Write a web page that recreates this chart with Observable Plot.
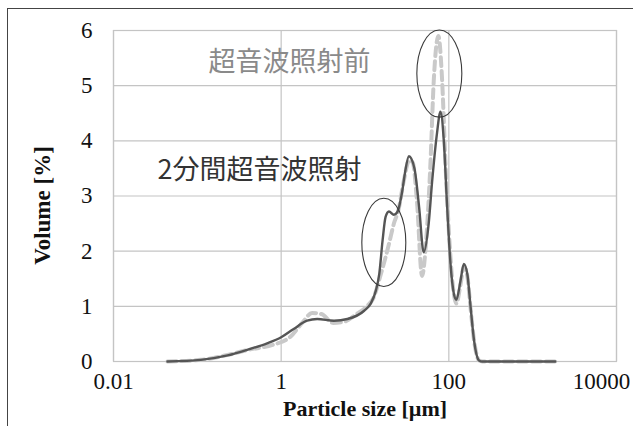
<!DOCTYPE html>
<html><head><meta charset="utf-8">
<script src="https://cdn.jsdelivr.net/npm/d3@7"></script>
<script src="https://cdn.jsdelivr.net/npm/@observablehq/plot@0.6"></script>
<style>
html,body{margin:0;padding:0;background:#fff;overflow:hidden;}
#wrap{position:relative;width:633px;height:426px;overflow:hidden;}
#border{position:absolute;left:7px;top:8px;width:700px;height:500px;border-top:1.5px solid #444;border-left:1.5px solid #444;pointer-events:none;}
</style></head><body><div id="wrap"><div id="chart"></div><div id="border"></div></div>
<script>
// Series: after 2 min of ultrasonication (solid)
const sizeAfter = [0.044, 0.11, 0.23, 0.43, 0.68, 1.0, 1.41, 2.04, 2.69, 4.27, 6.17, 9.77, 11.7, 13.5, 14.8, 16.2, 17.6, 19.3, 22.1, 24.3, 27.9, 30.2, 33.4, 38.9, 44.2, 50.1, 57.5, 63.1, 72.4, 79.4, 87.1, 95.5, 104.7, 114.8, 123, 138, 151, 166, 182, 200, 229, 251, 1862];
const volAfter  = [0, 0.03, 0.11, 0.23, 0.33, 0.44, 0.59, 0.74, 0.77, 0.74, 0.77, 0.92, 1.05, 1.29, 1.59, 2.19, 2.62, 2.72, 2.66, 2.71, 3.10, 3.45, 3.72, 3.50, 2.80, 1.98, 2.50, 3.25, 4.15, 4.53, 4.00, 2.80, 1.77, 1.23, 1.12, 1.47, 1.77, 1.59, 0.98, 0.38, 0.02, 0, 0];
// Series: before ultrasonication (dashed)
const sizeBefore = [0.044, 0.11, 0.23, 0.43, 0.79, 1.29, 1.78, 2.34, 3.02, 4.17, 5.62, 7.94, 10.5, 12.6, 15.5, 19.3, 22.1, 25.1, 28.8, 33.9, 37.2, 41.7, 47.9, 53.7, 60.3, 66.1, 75.0, 83.2, 91.2, 100, 112, 123, 138, 151, 166, 182, 200, 229, 251, 1862];
const volBefore  = [0, 0.03, 0.12, 0.22, 0.30, 0.45, 0.70, 0.88, 0.86, 0.70, 0.72, 0.86, 1.0, 1.15, 1.59, 2.13, 2.50, 2.75, 3.25, 3.65, 3.60, 2.90, 1.55, 2.20, 3.58, 5.09, 5.90, 5.09, 3.58, 2.37, 1.35, 1.05, 1.40, 1.72, 1.55, 0.95, 0.38, 0.02, 0, 0];

const xTicks = [0.01, 1, 100, 10000];
const xTickLabels = ["0.01", "1", "100", "10000"];
const yTicks = [0, 1, 2, 3, 4, 5, 6];
const xTitle = "Particle size [µm]";
const yTitle = "Volume [%]";

const labelBefore = "超音波照射前";
const labelAfter = "2分間超音波照射";
const labelBeforePos = [0.136, 5.42];
const labelAfterPos = [0.0335, 3.46];

// highlighted regions (ellipse bounding boxes, data units)
const regionX1 = [42.1, 9.29];
const regionX2 = [144.9, 31.1];
const regionY1 = [4.42, 1.35];
const regionY2 = [6.0, 2.95];

const after = sizeAfter.map((s, i) => ({size: s, vol: volAfter[i]}));
const before = sizeBefore.map((s, i) => ({size: s, vol: volBefore[i]}));

function ellipses(index, scales) {
  const g = d3.create("svg:g").attr("fill", "none").attr("stroke", "#3a3a3a").attr("stroke-width", 1.1);
  for (let i = 0; i < regionX1.length; i++) {
    const a = scales.x(regionX1[i]), b = scales.x(regionX2[i]);
    const c = scales.y(regionY1[i]), d = scales.y(regionY2[i]);
    g.append("ellipse").attr("cx", (a + b) / 2).attr("cy", (c + d) / 2)
      .attr("rx", Math.abs(b - a) / 2).attr("ry", Math.abs(c - d) / 2);
  }
  return g.node();
}

const serif = "'Liberation Serif', 'Times New Roman', serif";
const cjk = "'Noto Sans CJK JP', 'Noto Sans', sans-serif";
const gridColor = "#c4c4c4";

const chart = Plot.plot({
  width: 633,
  height: 426,
  marginLeft: 113,
  marginRight: 17,
  marginTop: 30,
  marginBottom: 65,
  style: {fontFamily: serif, fontSize: "23px", color: "#111", background: "#fff", overflow: "visible"},
  x: {type: "log", domain: [0.01, 10000], axis: null},
  y: {domain: [0, 6], ticks: yTicks, tickSize: 0, tickPadding: 21, label: null, tickFormat: d => String(d)},
  marks: [
    Plot.ruleX(xTicks, {stroke: gridColor, strokeWidth: 1.2}),
    Plot.ruleY(yTicks, {stroke: gridColor, strokeWidth: 1.2}),
    Plot.frame({stroke: gridColor, strokeWidth: 1.2}),
    Plot.line(before, {x: "size", y: "vol", curve: "monotone-x", stroke: "#c9c9c9", strokeWidth: 4, strokeDasharray: "9,5"}),
    Plot.line(after, {x: "size", y: "vol", curve: "monotone-x", stroke: "#555", strokeWidth: 2.4}),
    ellipses,
    Plot.text([labelBefore], {x: [labelBeforePos[0]], y: [labelBeforePos[1]], text: d => d, textAnchor: "start", fontFamily: cjk, fontSize: 27, fill: "#8a8a8a"}),
    Plot.text([labelAfter], {x: [labelAfterPos[0]], y: [labelAfterPos[1]], text: d => d, textAnchor: "start", fontFamily: cjk, fontSize: 27, fill: "#333"}),
    Plot.text(xTicks.slice(0, 3), {x: d => d, text: (d, i) => xTickLabels[i], frameAnchor: "bottom", dy: 27, fontFamily: serif, fontSize: 23, fill: "#111"}),
    Plot.text(xTicks.slice(3), {x: d => d, text: (d, i) => xTickLabels[3 + i], frameAnchor: "bottom", dy: 27, dx: -15, fontFamily: serif, fontSize: 23, fill: "#111"}),
    Plot.text([xTitle], {frameAnchor: "bottom", dy: 54, text: d => d, fontFamily: serif, fontSize: 22, fontWeight: "bold", fill: "#111"}),
    Plot.text([yTitle], {frameAnchor: "left", textAnchor: "middle", dx: -71, dy: 9.5, rotate: -90, text: d => d, fontFamily: serif, fontSize: 23, fontWeight: "bold", fill: "#111"})
  ]
});
document.getElementById("chart").appendChild(chart);
</script>
</body></html>
